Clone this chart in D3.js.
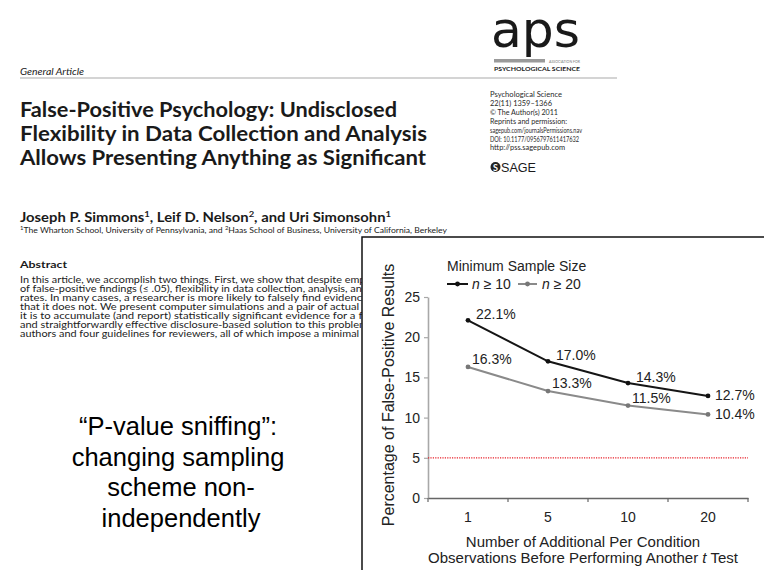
<!DOCTYPE html>
<html>
<head>
<meta charset="utf-8">
<script src="https://cdn.jsdelivr.net/npm/d3@7"></script>
<style>
  html, body { margin: 0; padding: 0; background: #fff; }
  svg { display: block; }
</style>
</head>
<body>
<div id="chart"></div>
<script>
// ---------- chart data ----------
const categories = ["1", "5", "10", "20"];
const seriesN10 = [22.1, 17.0, 14.3, 12.7];
const seriesN20 = [16.3, 13.3, 11.5, 10.4];
const seriesNames = ["n \u2265 10", "n \u2265 20"];
const yTicks = [0, 5, 10, 15, 20, 25];
const threshold = 5;

// ---------- page text ----------
const titleLines = [
  "False-Positive Psychology: Undisclosed",
  "Flexibility in Data Collection and Analysis",
  "Allows Presenting Anything as Significant"
];
const journalLines = [
  "Psychological Science",
  "22(11) 1359\u20131366",
  "\u00A9 The Author(s) 2011",
  "Reprints and permission:",
  "sagepub.com/journalsPermissions.nav",
  "DOI: 10.1177/0956797611417632",
  "http://pss.sagepub.com"
];
const abstractLines = [
  "In this article, we accomplish two things. First, we show that despite empi",
  "of false-positive findings (\u2264 .05), flexibility in data collection, analysis, and",
  "rates. In many cases, a researcher is more likely to falsely find evidence",
  "that it does not.  We present computer simulations and a pair of actual e",
  "it is to accumulate (and report) statistically significant evidence for a fa",
  "and straightforwardly effective disclosure-based solution to this problem",
  "authors and four guidelines for reviewers, all of which impose a minimal b"
];
const slideLines = ["\u201CP-value sniffing\u201D:", "changing sampling", "scheme non-", "independently"];

const W = 764, H = 570;
const paperFont = "Lato, 'Open Sans', sans-serif";
const chartFont = "'Liberation Sans', Arial, sans-serif";

const svg = d3.select("#chart").append("svg")
  .attr("width", W).attr("height", H)
  .attr("viewBox", `0 0 ${W} ${H}`);

svg.append("rect").attr("width", W).attr("height", H).attr("fill", "#fff");

// ---------- paper header ----------
const paper = svg.append("g").attr("font-family", paperFont).attr("fill", "#1a1a1a");

paper.append("text").attr("x", 20).attr("y", 75)
  .attr("font-size", 10).attr("font-style", "italic")
  .attr("textLength", 64).attr("lengthAdjust", "spacingAndGlyphs")
  .text("General Article");

paper.append("line").attr("x1", 20).attr("x2", 617).attr("y1", 78).attr("y2", 78)
  .attr("stroke", "#d4d4d4").attr("stroke-width", 2);

const titleW = [377, 407, 406];
paper.selectAll("text.title").data(titleLines).join("text")
  .attr("class", "title")
  .attr("x", 20).attr("y", (d, i) => 117 + i * 24)
  .attr("font-size", 20).attr("font-weight", 700)
  .attr("textLength", (d, i) => titleW[i]).attr("lengthAdjust", "spacingAndGlyphs")
  .text(d => d);

// authors
const auth = paper.append("text").attr("x", 20).attr("y", 222)
  .attr("font-size", 12.5).attr("font-weight", 700)
  .attr("textLength", 371).attr("lengthAdjust", "spacingAndGlyphs");
[["Joseph P. Simmons", 0], ["1", 1], [", Leif D. Nelson", 0], ["2", 1], [", and Uri Simonsohn", 0], ["1", 1]]
  .forEach(([t, sup], i) => {
    const ts = auth.append("tspan").text(t);
    if (sup) ts.attr("font-size", 8).attr("dy", -5);
    else if (i > 0) ts.attr("dy", 5);
  });

const aff = paper.append("text").attr("x", 20).attr("y", 233)
  .attr("font-size", 8).attr("textLength", 427).attr("lengthAdjust", "spacingAndGlyphs");
aff.append("tspan").attr("font-size", 5.5).attr("dy", -3).text("1");
aff.append("tspan").attr("dy", 3).text("The Wharton School, University of Pennsylvania, and ");
aff.append("tspan").attr("font-size", 5.5).attr("dy", -3).text("2");
aff.append("tspan").attr("dy", 3).text("Haas School of Business, University of California, Berkeley");

// aps logo
paper.append("text").attr("x", 491).attr("y", 47)
  .attr("font-size", 50).attr("font-family", "'DejaVu Sans', sans-serif")
  .attr("textLength", 89).attr("lengthAdjust", "spacingAndGlyphs")
  .text("aps");
paper.append("rect").attr("x", 494).attr("y", 59).attr("width", 51).attr("height", 3.5).attr("fill", "#9a9a9a");
paper.append("text").attr("x", 549).attr("y", 62.5).attr("font-size", 4.2).attr("fill", "#777")
  .attr("textLength", 31).attr("lengthAdjust", "spacingAndGlyphs").text("ASSOCIATION FOR");
paper.append("text").attr("x", 494).attr("y", 70.5).attr("font-size", 6.2).attr("font-weight", 700)
  .attr("textLength", 86).attr("lengthAdjust", "spacingAndGlyphs").text("PSYCHOLOGICAL SCIENCE");

// journal info
const jW = [72, 62, 68, 77, 92, 89, 75];
paper.selectAll("text.jinfo").data(journalLines).join("text")
  .attr("class", "jinfo")
  .attr("x", 490).attr("y", (d, i) => 97 + i * 8.9)
  .attr("font-size", 7.8).attr("fill", "#2a2a2a")
  .attr("textLength", (d, i) => jW[i]).attr("lengthAdjust", "spacingAndGlyphs")
  .text(d => d);
paper.append("circle").attr("cx", 495.5).attr("cy", 167).attr("r", 5).attr("fill", "#222");
paper.append("text").attr("x", 495.5).attr("y", 170.5).attr("text-anchor", "middle")
  .attr("font-size", 9).attr("font-weight", 700).attr("fill", "#fff").text("S");
paper.append("text").attr("x", 501).attr("y", 172).attr("font-size", 12.5)
  .attr("font-family", chartFont)
  .attr("textLength", 35).attr("lengthAdjust", "spacingAndGlyphs").text("SAGE");

// abstract
paper.append("text").attr("x", 20).attr("y", 268).attr("font-size", 9.5).attr("font-weight", 700)
  .attr("textLength", 47).attr("lengthAdjust", "spacingAndGlyphs").text("Abstract");
paper.selectAll("text.abs").data(abstractLines).join("text")
  .attr("class", "abs")
  .attr("x", 20).attr("y", (d, i) => 282.5 + i * 9.15)
  .attr("font-size", 8.5).attr("fill", "#222")
  .attr("textLength", 348).attr("lengthAdjust", "spacingAndGlyphs")
  .text(d => d);

// slide text
svg.append("g").attr("font-family", chartFont).attr("font-size", 25.5).attr("fill", "#000")
  .attr("text-anchor", "middle")
  .selectAll("text").data(slideLines).join("text")
  .attr("x", (d, i) => i < 2 ? 178 : 181).attr("y", (d, i) => 435 + i * 30.7)
  .text(d => d);

// ---------- chart panel ----------
svg.append("rect").attr("x", 362).attr("y", 237).attr("width", 410).attr("height", 345)
  .attr("fill", "#fff").attr("stroke", "#111").attr("stroke-width", 1.5);

const plot = { left: 428, right: 748, top: 297, bottom: 498 };
const x = d3.scaleBand().domain(categories).range([plot.left, plot.right]);
const y = d3.scaleLinear().domain([0, 25]).range([plot.bottom, plot.top]);
const cx = c => x(c) + x.bandwidth() / 2;

const chart = svg.append("g").attr("font-family", chartFont).attr("fill", "#222");

// y axis
const yAxis = chart.append("g").attr("transform", `translate(${plot.left},0)`)
  .call(d3.axisLeft(y).tickValues(yTicks).tickSize(4).tickSizeOuter(0).tickPadding(4).tickFormat(d3.format("d")));
yAxis.select(".domain").attr("stroke", "#a8a8a8").attr("stroke-width", 1.6);
yAxis.selectAll(".tick line").attr("stroke", "#a8a8a8").attr("stroke-width", 1.2);
yAxis.selectAll(".tick text").attr("font-size", 14).attr("font-family", chartFont).attr("fill", "#222");

// threshold line
chart.append("line")
  .attr("x1", plot.left).attr("x2", plot.right)
  .attr("y1", y(threshold)).attr("y2", y(threshold))
  .attr("stroke", "#e8202a").attr("stroke-width", 1.2).attr("stroke-dasharray", "1.2,1.2");

// x axis
const xAxis = chart.append("g").attr("transform", `translate(0,${plot.bottom})`)
  .call(d3.axisBottom(x).tickSize(0).tickSizeOuter(0).tickPadding(14));
xAxis.select(".domain").attr("stroke", "#666").attr("stroke-width", 1.5);
xAxis.selectAll(".tick text").attr("font-size", 14).attr("font-family", chartFont).attr("fill", "#222");
const bounds = categories.map(c => x(c)).concat([x.range()[1]]);
chart.append("g").selectAll("line").data(bounds).join("line")
  .attr("x1", d => d).attr("x2", d => d)
  .attr("y1", plot.bottom).attr("y2", plot.bottom + 4)
  .attr("stroke", "#666").attr("stroke-width", 1.2);

// series
const seriesStyle = [
  { values: seriesN10, line: "#151515", dot: "#111", dx: 8, dy: -1 },
  { values: seriesN20, line: "#8a8a8a", dot: "#777", dx: 4, dy: -3 }
];
const lineGen = d3.line().x((d, i) => cx(categories[i])).y(d => y(d));
const fmt = d3.format(".1f");
seriesStyle.forEach(s => {
  chart.append("path").datum(s.values)
    .attr("d", lineGen).attr("fill", "none")
    .attr("stroke", s.line).attr("stroke-width", 2);
  chart.append("g").selectAll("circle").data(s.values).join("circle")
    .attr("cx", (d, i) => cx(categories[i])).attr("cy", d => y(d)).attr("r", 2.4)
    .attr("fill", s.dot);
  chart.append("g").selectAll("text").data(s.values).join("text")
    .attr("x", (d, i) => cx(categories[i]) + (i === s.values.length - 1 ? 7 : s.dx))
    .attr("y", (d, i) => y(d) + (i === s.values.length - 1 ? 4.5 : s.dy))
    .attr("font-size", 14).attr("fill", "#222")
    .text(d => fmt(d) + "%");
});

// legend
chart.append("text").attr("x", 447).attr("y", 271).attr("font-size", 14).text("Minimum Sample Size");
const legX = [447, 518];
seriesStyle.forEach((s, i) => {
  const g = chart.append("g").attr("transform", `translate(${legX[i]},284)`);
  g.append("line").attr("x1", 0).attr("x2", i === 0 ? 21 : 19).attr("stroke", s.line).attr("stroke-width", 2);
  g.append("circle").attr("cx", i === 0 ? 10.5 : 9.5).attr("r", 2.4).attr("fill", s.dot);
  const t = g.append("text").attr("x", i === 0 ? 25 : 24).attr("y", 5).attr("font-size", 14);
  const parts = seriesNames[i].split(" ");
  t.append("tspan").attr("font-style", "italic").text(parts[0]);
  t.append("tspan").text(" " + parts.slice(1).join(" "));
});

// axis titles
chart.append("text").attr("transform", "translate(393.5,395) rotate(-90)")
  .attr("text-anchor", "middle").attr("font-size", 16)
  .text("Percentage of False-Positive Results");
chart.append("text").attr("x", 583).attr("y", 547).attr("text-anchor", "middle").attr("font-size", 15)
  .text("Number of Additional Per Condition");
const xt2 = chart.append("text").attr("x", 583).attr("y", 563).attr("text-anchor", "middle").attr("font-size", 15);
xt2.append("tspan").text("Observations Before Performing Another ");
xt2.append("tspan").attr("font-style", "italic").text("t");
xt2.append("tspan").text(" Test");
</script>
</body>
</html>
